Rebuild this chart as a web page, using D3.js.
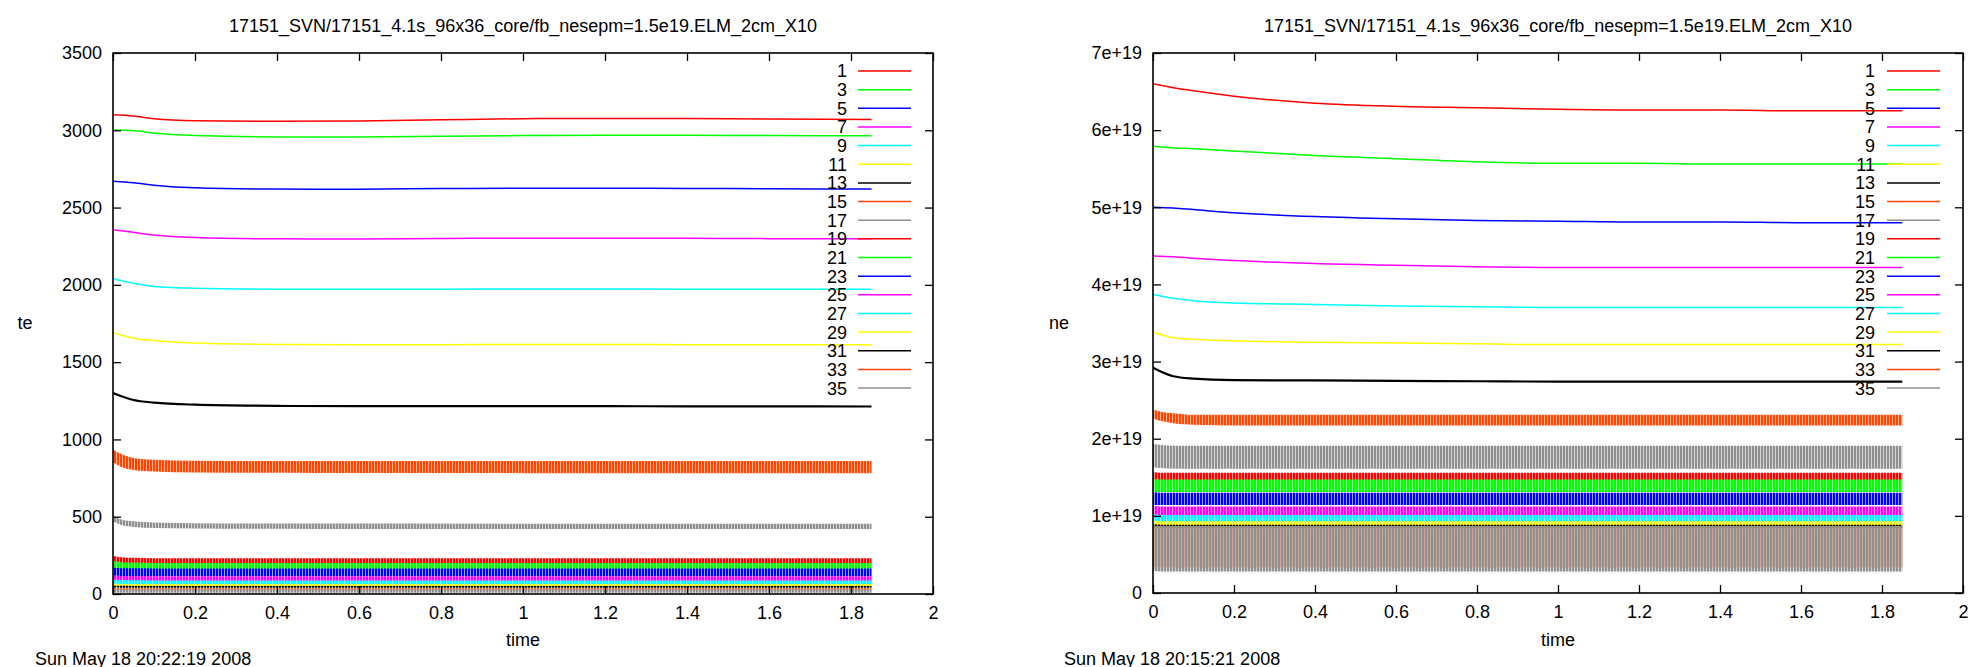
<!DOCTYPE html>
<html><head><meta charset="utf-8">
<script src="https://cdn.jsdelivr.net/npm/d3@7"></script>
<style>
html,body{margin:0;padding:0;background:#fff;}
text{font-family:"Liberation Sans",Arial,sans-serif;fill:#000;}
</style></head>
<body><svg id="chart" width="1969" height="667"></svg>
<script>
// ---------------- data ----------------
const seriesLabels = ["1","3","5","7","9","11","13","15","17","19","21","23","25","27","29","31","33","35"];
const xTicks = [0,0.2,0.4,0.6,0.8,1,1.2,1.4,1.6,1.8,2];
const teTicks = [0,500,1000,1500,2000,2500,3000,3500];
const neTicks = [0,1e19,2e19,3e19,4e19,5e19,6e19,7e19];
const neTickLabels = ["0","1e+19","2e+19","3e+19","4e+19","5e+19","6e+19","7e+19"];

// times for smooth (core) series
const tLine = [0,0.05,0.1,0.2,0.4,0.6,0.8,1.0,1.2,1.4,1.6,1.85];
// times for oscillating (ELM) envelopes
const tBand = [0,0.02,0.05,0.1,0.2,0.5,1.0,1.5,1.85];

// te (left panel) smooth series 1..13
const te1  = [3100,3092,3075,3062,3058,3060,3068,3075,3077,3076,3073,3070];
const te3  = [3002,2998,2982,2966,2957,2957,2961,2966,2968,2968,2966,2965];
const te5  = [2670,2660,2645,2628,2620,2619,2623,2625,2625,2624,2622,2620];
const te7  = [2357,2340,2322,2306,2298,2297,2300,2302,2302,2301,2299,2298];
const te9  = [2040,2010,1990,1978,1972,1971,1972,1973,1973,1972,1972,1972];
const te11 = [1690,1655,1640,1624,1614,1612,1613,1614,1614,1613,1612,1612];
const te13 = [1300,1255,1238,1225,1217,1215,1215,1215,1215,1214,1214,1213];
// te oscillating series 15..35: upper / lower envelopes
const te15hi = [935,905,880,868,862,860,860,860,860];
const te15lo = [850,822,802,792,786,783,782,782,782];
const te17hi = [510,482,470,462,458,456,455,455,455];
const te17lo = [470,446,434,427,424,421,420,420,420];
const te19hi = [248,238,234,232,231,231,231,231,231];
const te19lo = [200,197,196,195,195,195,195,195,195];
const te21hi = [215,206,203,201,200,200,200,200,200];
const te21lo = [160,157,156,155,155,155,155,155,155];
const te23hi = [170,167,166,165,165,165,165,165,165];
const te23lo = [118,117,116,115,115,115,115,115,115];
const te25hi = [118,117,116,115,115,115,115,115,115];
const te25lo = [82,81,80,80,80,80,80,80,80];
const te27hi = [92,90,89,88,88,88,88,88,88];
const te27lo = [60,59,58,58,58,58,58,58,58];
const te29hi = [66,65,64,64,64,64,64,64,64];
const te29lo = [48,47,47,47,47,47,47,47,47];
const te31hi = [54,53,52,52,52,52,52,52,52];
const te31lo = [42,41,41,41,41,41,41,41,41];
const te33hi = [38,37,37,37,37,37,37,37,37];
const te33lo = [27,26,26,26,26,26,26,26,26];
const te35hi = [31,30,30,30,30,30,30,30,30];
const te35lo = [10,8,8,8,8,8,8,8,8];

// ne (right panel) smooth series 1..13
const ne1  = [6.60e19,6.55e19,6.51e19,6.44e19,6.35e19,6.31e19,6.29e19,6.27e19,6.26e19,6.26e19,6.25e19,6.25e19];
const ne3  = [5.79e19,5.77e19,5.76e19,5.73e19,5.67e19,5.63e19,5.59e19,5.57e19,5.57e19,5.56e19,5.56e19,5.56e19];
const ne5  = [5.00e19,4.99e19,4.97e19,4.93e19,4.88e19,4.85e19,4.83e19,4.82e19,4.81e19,4.81e19,4.80e19,4.80e19];
const ne7  = [4.37e19,4.36e19,4.34e19,4.31e19,4.27e19,4.25e19,4.23e19,4.22e19,4.22e19,4.22e19,4.22e19,4.22e19];
const ne9  = [3.87e19,3.82e19,3.79e19,3.76e19,3.74e19,3.72e19,3.71e19,3.70e19,3.70e19,3.70e19,3.70e19,3.70e19];
const ne11 = [3.38e19,3.31e19,3.29e19,3.27e19,3.25e19,3.24e19,3.23e19,3.22e19,3.22e19,3.22e19,3.22e19,3.22e19];
const ne13 = [2.92e19,2.81e19,2.78e19,2.76e19,2.755e19,2.75e19,2.745e19,2.74e19,2.74e19,2.74e19,2.74e19,2.74e19];
// ne oscillating series 15..35: upper / lower envelopes
const ne15hi = [2.38e19,2.35e19,2.33e19,2.31e19,2.31e19,2.31e19,2.31e19,2.31e19,2.31e19];
const ne15lo = [2.26e19,2.23e19,2.20e19,2.18e19,2.17e19,2.17e19,2.17e19,2.17e19,2.17e19];
const ne17hi = [1.93e19,1.92e19,1.91e19,1.91e19,1.91e19,1.91e19,1.91e19,1.91e19,1.91e19];
const ne17lo = [1.63e19,1.62e19,1.61e19,1.61e19,1.61e19,1.61e19,1.61e19,1.61e19,1.61e19];
const ne19hi = [1.57e19,1.56e19,1.56e19,1.56e19,1.56e19,1.56e19,1.56e19,1.56e19,1.56e19];
const ne19lo = [1.46e19,1.46e19,1.46e19,1.46e19,1.46e19,1.46e19,1.46e19,1.46e19,1.46e19];
const ne21hi = [1.48e19,1.47e19,1.47e19,1.47e19,1.47e19,1.47e19,1.47e19,1.47e19,1.47e19];
const ne21lo = [1.31e19,1.31e19,1.31e19,1.31e19,1.31e19,1.31e19,1.31e19,1.31e19,1.31e19];
const ne23hi = [1.31e19,1.30e19,1.30e19,1.30e19,1.30e19,1.30e19,1.30e19,1.30e19,1.30e19];
const ne23lo = [1.14e19,1.14e19,1.14e19,1.14e19,1.14e19,1.14e19,1.14e19,1.14e19,1.14e19];
const ne25hi = [1.13e19,1.12e19,1.12e19,1.12e19,1.12e19,1.12e19,1.12e19,1.12e19,1.12e19];
const ne25lo = [0.97e19,0.97e19,0.97e19,0.97e19,0.97e19,0.97e19,0.97e19,0.97e19,0.97e19];
const ne27hi = [1.02e19,1.01e19,1.01e19,1.01e19,1.01e19,1.01e19,1.01e19,1.01e19,1.01e19];
const ne27lo = [0.90e19,0.90e19,0.90e19,0.90e19,0.90e19,0.90e19,0.90e19,0.90e19,0.90e19];
const ne29hi = [0.94e19,0.93e19,0.93e19,0.93e19,0.93e19,0.93e19,0.93e19,0.93e19,0.93e19];
const ne29lo = [0.86e19,0.86e19,0.86e19,0.86e19,0.86e19,0.86e19,0.86e19,0.86e19,0.86e19];
const ne31hi = [0.89e19,0.885e19,0.885e19,0.885e19,0.885e19,0.885e19,0.885e19,0.885e19,0.885e19];
const ne31lo = [0.85e19,0.84e19,0.84e19,0.84e19,0.84e19,0.84e19,0.84e19,0.84e19,0.84e19];
const ne33hi = [0.86e19,0.86e19,0.86e19,0.86e19,0.86e19,0.86e19,0.86e19,0.86e19,0.86e19];
const ne33lo = [0.34e19,0.33e19,0.33e19,0.33e19,0.33e19,0.33e19,0.33e19,0.33e19,0.33e19];
const ne35hi = [0.87e19,0.87e19,0.87e19,0.87e19,0.87e19,0.87e19,0.87e19,0.87e19,0.87e19];
const ne35lo = [0.29e19,0.28e19,0.28e19,0.28e19,0.28e19,0.28e19,0.28e19,0.28e19,0.28e19];

const titleText = "17151_SVN/17151_4.1s_96x36_core/fb_nesepm=1.5e19.ELM_2cm_X10";
const dateLeft = "Sun May 18 20:22:19 2008";
const dateRight = "Sun May 18 20:15:21 2008";

// ---------------- style ----------------
const palette = ["#ff0000","#00ff00","#0000ff","#ff00ff","#00ffff","#ffff00","#000000","#ff4500","#909090"];
const colorOf = i => palette[i % 9];

const svg = d3.select("#chart");
svg.append("rect").attr("width",1969).attr("height",667).attr("fill","#fff");
const defs = svg.append("defs");
palette.forEach((c,i)=>{
  const p = defs.append("pattern").attr("id","hatch"+i).attr("patternUnits","userSpaceOnUse")
    .attr("width",3).attr("height",6);
  p.append("rect").attr("x",0).attr("y",0).attr("width",2).attr("height",6).attr("fill",c);
  p.append("rect").attr("x",2).attr("y",0).attr("width",1).attr("height",6).attr("fill",c).attr("opacity",0.4);
});

function drawPanel(cfg){
  const x = d3.scaleLinear().domain([0,2]).range([cfg.x0,cfg.x1]);
  const y = d3.scaleLinear().domain([0,cfg.yMax]).range([cfg.y1,cfg.y0]);
  const g = svg.append("g");
  const clipId = "clip"+cfg.id;
  defs.append("clipPath").attr("id",clipId).append("rect")
    .attr("x",cfg.x0).attr("y",cfg.y0).attr("width",cfg.x1-cfg.x0).attr("height",cfg.y1-cfg.y0);

  const data = g.append("g").attr("clip-path",`url(#${clipId})`);
  const line = d3.line().x(d=>x(d[0])).y(d=>y(d[1])).curve(d3.curveMonotoneX);
  const area = d3.area().x(d=>x(d[0])).y0(d=>y(d[1])).y1(d=>y(d[2])).curve(d3.curveMonotoneX);

  cfg.lines.forEach((vals,i)=>{
    data.append("path").datum(tLine.map((t,k)=>[t,vals[k]]))
      .attr("d",line).attr("fill","none").attr("stroke",colorOf(i))
      .attr("stroke-width", i===6 ? 2.2 : 1.5);
  });
  cfg.bands.forEach((b,j)=>{
    const i = j + cfg.lines.length;
    data.append("path").datum(tBand.map((t,k)=>[t,b[1][k],b[0][k]]))
      .attr("d",area).attr("fill",`url(#hatch${i%9})`).attr("stroke","none");
  });

  // axes with inward ticks on all sides
  const fmt = cfg.tickFormat;
  g.append("g").attr("transform",`translate(0,${cfg.y1})`)
    .call(d3.axisBottom(x).tickValues(xTicks).tickFormat(d3.format("~g")).tickSizeInner(-8).tickSizeOuter(0).tickPadding(12));
  const top = g.append("g").attr("transform",`translate(0,${cfg.y0})`)
    .call(d3.axisTop(x).tickValues(xTicks).tickSizeInner(-8).tickSizeOuter(0));
  top.selectAll("text").remove();
  g.append("g").attr("transform",`translate(${cfg.x0},0)`)
    .call(d3.axisLeft(y).tickValues(cfg.yTicks).tickFormat(fmt).tickSizeInner(-8).tickSizeOuter(0).tickPadding(11));
  const right = g.append("g").attr("transform",`translate(${cfg.x1},0)`)
    .call(d3.axisRight(y).tickValues(cfg.yTicks).tickSizeInner(-8).tickSizeOuter(0));
  right.selectAll("text").remove();
  g.selectAll(".domain").remove();
  g.selectAll(".tick line").attr("stroke","#000").attr("stroke-width",1.3);
  g.selectAll(".tick text").style("font-size","18px").attr("fill","#000")
    .style("font-family",'"Liberation Sans",Arial,sans-serif');
  g.append("rect").attr("x",cfg.x0).attr("y",cfg.y0).attr("width",cfg.x1-cfg.x0).attr("height",cfg.y1-cfg.y0)
    .attr("fill","none").attr("stroke","#000").attr("stroke-width",1.6);

  // legend
  seriesLabels.forEach((lab,i)=>{
    const yy = 71 + i*18.65;
    g.append("text").attr("x",cfg.legendLabelX).attr("y",yy).attr("dy","0.36em")
      .attr("text-anchor","end").style("font-size","18px").text(lab);
    g.append("line").attr("x1",cfg.legendLine[0]).attr("x2",cfg.legendLine[1])
      .attr("y1",yy).attr("y2",yy).attr("stroke",colorOf(i)).attr("stroke-width",1.5);
  });

  // texts
  g.append("text").attr("x",(cfg.x0+cfg.x1)/2).attr("y",26).attr("dy","0.36em")
    .attr("text-anchor","middle").style("font-size","18px").text(titleText);
  g.append("text").attr("x",(cfg.x0+cfg.x1)/2).attr("y",640).attr("dy","0.36em")
    .attr("text-anchor","middle").style("font-size","18px").text("time");
  g.append("text").attr("x",cfg.ylabelX).attr("y",323).attr("dy","0.36em")
    .attr("text-anchor","middle").style("font-size","18px").text(cfg.ylabel);
  g.append("text").attr("x",cfg.dateX).attr("y",659).attr("dy","0.36em")
    .attr("text-anchor","start").style("font-size","18px").text(cfg.date);
}

drawPanel({
  id:"L", x0:113, x1:933, y0:53, y1:594, yMax:3500, yTicks:teTicks,
  tickFormat:d3.format("d"), ylabel:"te", ylabelX:25, date:dateLeft, dateX:35,
  legendLabelX:847, legendLine:[858,911],
  lines:[te1,te3,te5,te7,te9,te11,te13],
  bands:[[te15hi,te15lo],[te17hi,te17lo],[te19hi,te19lo],[te21hi,te21lo],[te23hi,te23lo],
         [te25hi,te25lo],[te27hi,te27lo],[te29hi,te29lo],[te31hi,te31lo],[te33hi,te33lo],[te35hi,te35lo]]
});
drawPanel({
  id:"R", x0:1153, x1:1963, y0:53, y1:593, yMax:7e19, yTicks:neTicks,
  tickFormat:(d,i)=>neTickLabels[i], ylabel:"ne", ylabelX:1059, date:dateRight, dateX:1064,
  legendLabelX:1875, legendLine:[1887,1940],
  lines:[ne1,ne3,ne5,ne7,ne9,ne11,ne13],
  bands:[[ne15hi,ne15lo],[ne17hi,ne17lo],[ne19hi,ne19lo],[ne21hi,ne21lo],[ne23hi,ne23lo],
         [ne25hi,ne25lo],[ne27hi,ne27lo],[ne29hi,ne29lo],[ne31hi,ne31lo],[ne33hi,ne33lo],[ne35hi,ne35lo]]
});
</script></body></html>
